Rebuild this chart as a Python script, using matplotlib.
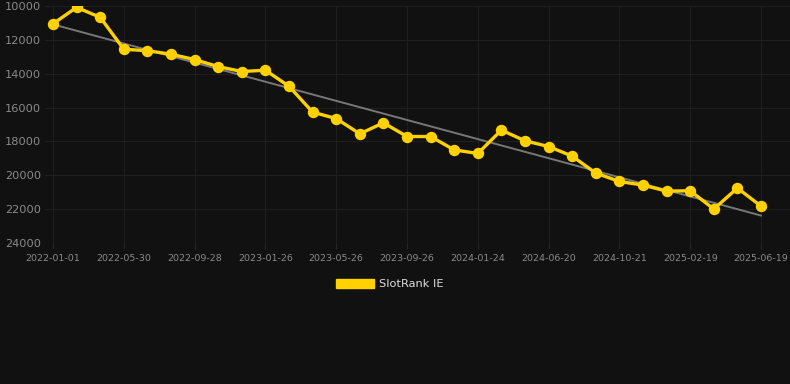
import matplotlib
matplotlib.use("Agg")
import matplotlib.pyplot as plt
import numpy as np
from matplotlib.patches import Patch

tick_labels = ["2022-01-01", "2022-05-30", "2022-09-28", "2023-01-26", "2023-05-26",
               "2023-09-26", "2024-01-24", "2024-06-20", "2024-10-21", "2025-02-19",
               "2025-06-19"]
rank_values = [11050, 10080, 10670, 12555, 12640, 12850, 13165, 13580, 13870, 13795,
               14740, 16270, 16650, 17550, 16900, 17710, 17710, 18500, 18710, 17330,
               17965, 18300, 18870, 19870, 20365, 20580, 20935, 20915, 21995, 20755,
               21820]
series_name = "SlotRank IE"

bg = "#111111"
fig = plt.figure(figsize=(7.9, 3.84), dpi=100, facecolor=bg)
ax = fig.add_axes([45/790, 1 - 243/384, 745/790, 237/384], facecolor=bg)

x = np.arange(len(rank_values))
coef = np.polyfit(x, rank_values, 1)
ax.plot(x, np.polyval(coef, x), color="#777777", lw=1.4, zorder=2)
ax.plot(x, rank_values, color="#FFD100", lw=2.4, marker="o", ms=7.2,
        markerfacecolor="#FFD100", markeredgecolor="#FFD100", zorder=3)

ax.set_ylim(24000, 10000)
ax.set_yticks(np.arange(10000, 24001, 2000))
ax.set_xlim(-8/23.6, 30 + 29/23.6)
tick_pos = np.arange(0, len(rank_values), 3)
ax.set_xticks(tick_pos)
ax.set_xticklabels(tick_labels)

ax.grid(True, color="#1f1f1f", lw=0.8)
ax.set_axisbelow(True)
for s in ax.spines.values():
    s.set_visible(False)
ax.axhline(24000, color="#262626", lw=0.8, zorder=1)

ax.tick_params(axis="y", length=0, pad=3, labelsize=8.2, labelcolor="#8a8a8a")
ax.tick_params(axis="x", length=4, color="#262626", pad=4, labelsize=6.8, labelcolor="#8a8a8a")

handle = Patch(facecolor="#FFD100", edgecolor="#FFD100")
leg = fig.legend([handle], [series_name], loc="center", bbox_to_anchor=(390/790, 1 - 284/384),
                 frameon=False, handlelength=3.3, handleheight=0.9, fontsize=8.2,
                 labelcolor="#dddddd", handletextpad=0.5)

fig.savefig("out.png", dpi=100, facecolor=bg)
